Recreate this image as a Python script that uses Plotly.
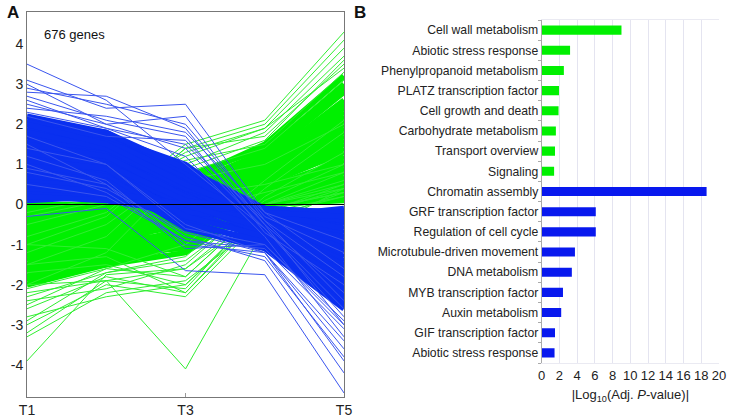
import plotly.graph_objects as go

# ---------------- Panel A data (values at T1..T5) ----------------
time_points = ["T1", "T2", "T3", "T4", "T5"]
tick_labels_a = ["T1", "T3", "T5"]
y_ticks_a = [-4, -3, -2, -1, 0, 1, 2, 3, 4]
gene_count_label = "676 genes"

green_core = [
    [-0.1, 0.0, 0.4, 1.2, 2.8], [-0.2, -0.1, 0.3, 1.0, 2.4], [-0.3, -0.1, 0.2, 0.9, 2.1],
    [-0.4, -0.2, 0.5, 1.3, 3.0], [-0.5, -0.3, 0.1, 0.7, 1.8], [-0.6, -0.3, 0.0, 0.6, 1.5],
    [-0.7, -0.4, 0.2, 0.8, 2.0], [-0.8, -0.5, -0.1, 0.5, 1.3], [-0.9, -0.5, 0.1, 0.9, 2.2],
    [-1.0, -0.6, -0.2, 0.4, 1.1], [-1.1, -0.7, -0.3, 0.3, 0.9], [-1.2, -0.8, -0.1, 0.6, 1.7],
    [-1.3, -0.8, -0.4, 0.2, 0.7], [-1.4, -0.9, -0.5, 0.3, 1.0], [-1.5, -1.0, -0.3, 0.5, 1.4],
    [-1.6, -1.1, -0.6, 0.2, 0.6], [-1.7, -1.2, -0.7, 0.1, 0.5], [-1.8, -1.3, -0.8, 0.3, 0.8],
    [-1.9, -1.4, -0.9, 0.1, 0.4], [-2.0, -1.5, -1.0, 0.2, 1.2], [-0.2, -0.2, -0.1, 0.2, 0.3],
    [-0.4, -0.3, -0.2, 0.1, 0.2], [-1.0, -0.7, -0.5, 0.0, 0.2], [-0.6, -0.4, 0.6, 1.5, 3.2],
    [-1.1, -0.6, 0.4, 1.1, 2.6], [-1.3, -0.9, 0.0, 0.7, 1.9], [-0.3, -0.2, 0.7, 1.4, 2.9],
    [-1.6, -1.2, -0.2, 0.4, 1.6], [-0.8, -0.6, -0.4, 0.1, 0.4], [-1.5, -1.2, -1.1, 0.0, 0.3],
    [-0.5, -0.4, -0.6, 0.0, 0.1], [-1.8, -1.5, -1.2, 0.1, 0.2], [-0.9, -0.8, 0.3, 1.0, 2.5],
    [-1.2, -1.0, -0.8, 0.2, 0.9], [0.0, 0.0, 0.5, 1.1, 2.3], [-0.7, -0.7, -0.9, 0.0, 0.6],
]
green_sparse = [
    [-2.0, -1.9, -4.1, -0.6, 0.4], [-3.9, -1.75, -1.6, -0.2, 0.5], [-3.3, -2.2, -1.9, -0.4, 0.3],
    [-3.2, -1.9, -1.6, 0.0, 0.8], [-3.0, -2.0, -2.3, -0.3, 0.2], [-2.9, -1.7, -1.4, 0.1, 1.0],
    [-2.8, -2.3, -2.0, -0.2, 0.4], [-2.6, -1.8, -2.2, -0.1, 0.3], [-2.5, -1.6, -1.8, 0.0, 0.6],
    [-2.4, -2.1, -1.5, 0.2, 1.3], [-2.3, -1.7, -1.3, 0.4, 1.8], [-2.2, -1.9, -2.1, 0.0, 0.5],
    [-2.1, -1.6, -1.0, 0.6, 2.1], [-0.5, 0.0, 1.5, 2.1, 4.3], [-1.0, -0.3, 1.4, 2.0, 4.1],
    [-0.3, 0.1, 1.3, 1.9, 3.9], [-1.5, -0.8, 1.0, 1.8, 3.7], [-0.8, -0.2, 1.4, 1.7, 3.5],
    [-0.2, 0.2, 1.2, 1.9, 3.4], [-1.2, -0.5, 0.9, 1.6, 3.6], [0.3, 0.3, 1.1, 1.5, 3.3],
    [-2.0, -1.2, 0.8, 1.4, 3.1], [0.7, 0.4, 0.2, 0.5, 1.0], [0.5, 0.2, 0.6, 1.0, 2.0],
    [0.3, 0.1, -0.2, 0.3, 0.8], [-1.5, -1.3, -2.2, -0.2, 0.2], [-1.7, -1.5, -2.0, -0.1, 0.3],
    [-1.0, -1.1, -1.8, 0.0, 0.4],
]
blue_core = [
    [0.1, 0.2, 0.0, -0.1, -0.2], [0.2, 0.3, 0.1, -0.2, -0.5], [0.3, 0.4, -0.1, -0.3, -0.4],
    [0.4, 0.5, 0.2, -0.2, -0.8], [0.5, 0.5, 0.0, -0.4, -1.0], [0.6, 0.6, 0.3, -0.3, -0.7],
    [0.7, 0.7, 0.1, -0.5, -1.3], [0.8, 0.8, 0.4, -0.4, -1.1], [0.9, 0.8, 0.2, -0.6, -1.6],
    [1.0, 0.9, 0.5, -0.3, -0.9], [1.1, 1.0, 0.3, -0.5, -1.4], [1.2, 1.1, 0.6, -0.2, -0.6],
    [1.3, 1.1, 0.4, -0.6, -1.8], [1.4, 1.2, 0.7, -0.4, -1.2], [1.5, 1.3, 0.5, -0.7, -2.0],
    [1.6, 1.4, 0.8, -0.3, -1.0], [1.7, 1.5, 0.6, -0.5, -1.5], [1.8, 1.6, 0.9, -0.2, -0.3],
    [1.9, 1.6, 0.7, -0.8, -2.2], [2.0, 1.7, 1.0, -0.4, -1.7], [2.1, 1.8, 0.8, -0.6, -1.9],
    [2.2, 1.8, 0.9, -0.1, -0.4], [0.3, 0.2, -0.3, -0.7, -1.5], [0.6, 0.4, -0.2, -0.8, -2.1],
    [0.9, 0.6, -0.1, -0.9, -2.4], [1.2, 0.9, 0.0, -0.7, -1.9], [0.4, 0.3, -0.4, -1.0, -2.5],
    [1.0, 0.7, -0.5, -0.9, -2.3], [1.5, 1.2, 0.2, -0.5, -0.8], [0.2, 0.1, -0.2, -0.3, -0.1],
    [1.8, 1.4, 0.4, -0.1, -0.2], [0.7, 0.6, -0.6, -1.1, -2.6], [1.3, 1.0, 0.1, -0.2, -0.3],
    [0.5, 0.3, 0.0, -0.6, -1.7], [2.0, 1.5, 0.5, -0.3, -1.1], [1.1, 0.9, -0.3, -0.8, -2.0],
]
blue_sparse = [
    [3.5, 2.6, 1.0, -0.6, -2.8], [3.1, 2.4, 2.5, -0.2, -1.6], [3.0, 2.0, 2.2, -0.4, -2.4],
    [2.9, 2.5, 2.0, -0.3, -1.2], [2.8, 2.7, 1.9, -0.5, -3.0], [2.7, 2.1, 1.7, -0.7, -2.0],
    [2.6, 1.9, 1.5, -0.4, -1.8], [2.5, 2.0, 1.4, -0.6, -2.6], [2.4, 2.2, 1.8, -0.2, -0.9],
    [2.3, 1.9, 1.2, -0.8, -3.3], [2.2, 1.7, 1.6, -0.5, -2.2], [-0.3, -0.1, -1.65, -1.75, -4.7],
    [1.5, 0.5, -0.8, -1.4, -4.2], [1.0, 0.3, -0.9, -1.3, -3.8], [0.8, 0.4, -0.7, -1.2, -3.6],
    [1.2, 0.6, -1.0, -1.2, -3.4], [0.5, 0.2, -0.9, -1.1, -3.1], [1.7, 1.0, -0.6, -1.0, -3.0],
    [0.9, 0.5, -1.1, -1.0, -2.9], [1.4, 1.0, -0.5, -1.2, -3.9],
]

# ---------------- Panel B data ----------------
categories = [
    "Cell wall metabolism", "Abiotic stress response", "Phenylpropanoid metabolism",
    "PLATZ transcription factor", "Cell growth and death", "Carbohydrate metabolism",
    "Transport overview", "Signaling", "Chromatin assembly", "GRF transcription factor",
    "Regulation of cell cycle", "Microtubule-driven movement", "DNA metabolism",
    "MYB transcription factor", "Auxin metabolism", "GIF transcription factor",
    "Abiotic stress response",
]
log_p_values = [9.0, 3.2, 2.5, 1.95, 1.9, 1.6, 1.5, 1.4, 18.6, 6.1, 6.1, 3.75, 3.4, 2.4, 2.2, 1.5, 1.45]
bar_groups = ["up"] * 8 + ["down"] * 9

GREEN = "#00f000"
BLUE = "#0a30f0"
FONT = "Arial, Liberation Sans, sans-serif"

xi = list(range(len(time_points)))


def concat(lines):
    xs, ys = [], []
    for ln in lines:
        xs += xi + [None]
        ys += list(ln) + [None]
    return xs, ys


fig = go.Figure()
for lines, color, width in [
    (green_core, GREEN, 5.5),
    (green_sparse, "#30ee30", 1),
    (blue_core, BLUE, 5.5),
    (blue_sparse, "#3a55ee", 1),
]:
    xs, ys = concat(lines)
    fig.add_trace(go.Scatter(x=xs, y=ys, mode="lines", line=dict(color=color, width=width),
                             hoverinfo="skip", showlegend=False, xaxis="x", yaxis="y"))

bar_colors = [GREEN if g == "up" else "#0818ee" for g in bar_groups]
fig.add_trace(go.Bar(x=log_p_values, y=list(range(len(categories))), orientation="h",
                     marker=dict(color=bar_colors, line=dict(width=0)), width=0.45,
                     showlegend=False, xaxis="x2", yaxis="y2"))

W, H = 729, 417
fig.update_layout(
    width=W, height=H, margin=dict(l=0, r=0, t=0, b=0, autoexpand=False),
    paper_bgcolor="white", plot_bgcolor="white",
    font=dict(family=FONT, color="#222", size=13),
    xaxis=dict(domain=[27 / W, 344 / W], range=[0, 4], tickvals=[0, 2, 4], ticktext=tick_labels_a,
               showgrid=False, zeroline=False, showline=True, mirror=True, linecolor="#777",
               linewidth=1, ticks="inside", ticklen=4, tickcolor="#999", automargin=False,
               tickfont=dict(size=14, color="#222"), anchor="y"),
    yaxis=dict(domain=[1 - 397 / H, 1 - 12 / H], range=[-4.8, 4.8], tickvals=y_ticks_a,
               ticktext=[str(v) for v in y_ticks_a],
               showgrid=False, zeroline=False, showline=True, mirror=True, linecolor="#777",
               linewidth=1, ticks="", automargin=False, tickfont=dict(size=14, color="#222"), anchor="x"),
    xaxis2=dict(domain=[541.7 / W, 719 / W], range=[0, 20], dtick=2, tick0=0,
                showgrid=True, gridcolor="#e4e4f0", zeroline=False, showline=True, mirror=True,
                linecolor="#eaeaf2", ticks="", automargin=False, tickfont=dict(size=13, color="#222"),
                title=dict(text="|Log<sub>10</sub>(Adj. <i>P</i>-value)|", font=dict(size=13, color="#222"),
                           standoff=8), anchor="y2"),
    yaxis2=dict(domain=[1 - 363 / H, 1 - 20 / H], range=[16.5, -0.5],
                tickvals=list(range(len(categories))), ticktext=categories,
                showgrid=False, zeroline=False, showline=True, linecolor="#aaa", ticks="",
                automargin=False,
                minor=dict(ticks="outside", tick0=0.5, dtick=1, ticklen=3, tickcolor="#aaa", showgrid=False),
                tickfont=dict(size=12.2, color="#222"), anchor="x2"),
    shapes=[dict(type="line", xref="x", yref="y", x0=0, x1=4, y0=0, y1=0,
                 line=dict(color="black", width=1.2), layer="above")],
    annotations=[
        dict(text=gene_count_label, x=42 / W, y=1 - 34 / H, xref="paper", yref="paper",
             xanchor="left", yanchor="middle", showarrow=False, font=dict(size=13, color="#111")),
        dict(text="<b>A</b>", x=5 / W, y=1 - 12 / H, xref="paper", yref="paper",
             xanchor="left", yanchor="middle", showarrow=False, font=dict(size=17, color="#111")),
        dict(text="<b>B</b>", x=352 / W, y=1 - 12 / H, xref="paper", yref="paper",
             xanchor="left", yanchor="middle", showarrow=False, font=dict(size=17, color="#111")),
    ],
)

fig.write_html("out.html", config={"displayModeBar": False},
               post_script="document.body.style.margin='0';document.body.style.padding='0';"
                           "document.body.style.overflow='hidden';")
